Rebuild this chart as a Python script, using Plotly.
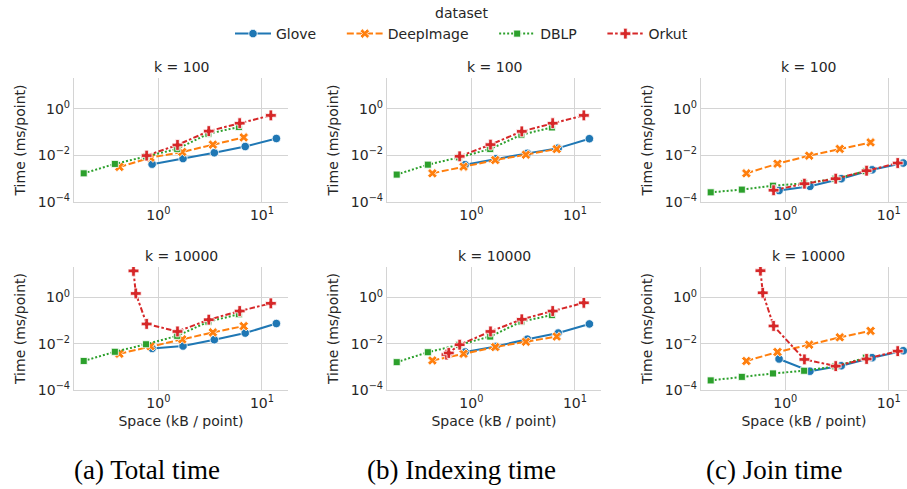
import plotly.graph_objects as go

# ---------------- data ----------------
datasets = ["Glove", "DeepImage", "DBLP", "Orkut"]
k_values = ["k = 100", "k = 10000"]
panels = ["Total time", "Indexing time", "Join time"]
captions = ["(a) Total time", "(b) Indexing time", "(c) Join time"]

glove_space = [0.87, 1.73, 3.47, 6.9, 13.8]
deep_space = [0.42, 0.84, 1.7, 3.36, 6.67]
dblp_space = [0.19, 0.38, 0.76, 1.52, 3.04, 6.0]
orkut_space_k100 = [0.77, 1.53, 3.07, 6.1, 12.2]
orkut_space_k10000 = [0.575, 0.605, 0.77, 1.53, 3.07, 6.1, 12.2]

# total time (ms/point)
total_k100_glove = [0.0042, 0.0073, 0.013, 0.024, 0.053]
total_k100_deep = [0.0032, 0.0080, 0.014, 0.029, 0.059]
total_k100_dblp = [0.0017, 0.0043, 0.009, 0.019, 0.085, 0.165]
total_k100_orkut = [0.0098, 0.028, 0.11, 0.24, 0.52]
total_k10000_glove = [0.0063, 0.008, 0.015, 0.029, 0.075]
total_k10000_deep = [0.0037, 0.0078, 0.0155, 0.031, 0.058]
total_k10000_dblp = [0.0018, 0.0045, 0.0095, 0.022, 0.09, 0.19]
total_k10000_orkut = [14.2, 1.5, 0.072, 0.034, 0.11, 0.26, 0.56]

# indexing time
index_k100_glove = [0.004, 0.0072, 0.0122, 0.0205, 0.052]
index_k100_deep = [0.0017, 0.0033, 0.0063, 0.0107, 0.0187]
index_k100_dblp = [0.0015, 0.004, 0.0082, 0.0187, 0.077, 0.158]
index_k100_orkut = [0.0091, 0.029, 0.107, 0.24, 0.52]
index_k10000_glove = [0.0044, 0.0077, 0.0158, 0.029, 0.072]
index_k10000_deep = [0.0019, 0.0037, 0.0072, 0.0122, 0.0205]
index_k10000_dblp = [0.0016, 0.0043, 0.009, 0.0205, 0.091, 0.174]
index_k10000_orkut = [0.0034, 0.004, 0.0091, 0.034, 0.114, 0.26, 0.59]

# join time
join_k100_glove = [0.00031, 0.00047, 0.001, 0.0024, 0.0047]
join_k100_deep = [0.0017, 0.0044, 0.0097, 0.019, 0.036]
join_k100_dblp = [0.00026, 0.00034, 0.0005, 0.00063, 0.001, 0.0021]
join_k100_orkut = [0.00032, 0.00061, 0.001, 0.0022, 0.0047]
join_k10000_glove = [0.0022, 0.00065, 0.00112, 0.0025, 0.005]
join_k10000_deep = [0.0018, 0.0044, 0.0091, 0.019, 0.036]
join_k10000_dblp = [0.00026, 0.00037, 0.00052, 0.00068, 0.00105, 0.0025]
join_k10000_orkut = [14.5, 1.6, 0.059, 0.0021, 0.00108, 0.0022, 0.0048]

x_tick_vals = [1, 10]
x_tick_text = ["10<sup>0</sup>", "10<sup>1</sup>"]
y_tick_vals = [1e-4, 1e-2, 1]
y_tick_text = ["10<sup>−4</sup>", "10<sup>−2</sup>", "10<sup>0</sup>"]

# ---------------- assembly ----------------
series = {
    (0, 0): [total_k100_glove, total_k100_deep, total_k100_dblp, total_k100_orkut],
    (1, 0): [total_k10000_glove, total_k10000_deep, total_k10000_dblp, total_k10000_orkut],
    (0, 1): [index_k100_glove, index_k100_deep, index_k100_dblp, index_k100_orkut],
    (1, 1): [index_k10000_glove, index_k10000_deep, index_k10000_dblp, index_k10000_orkut],
    (0, 2): [join_k100_glove, join_k100_deep, join_k100_dblp, join_k100_orkut],
    (1, 2): [join_k10000_glove, join_k10000_deep, join_k10000_dblp, join_k10000_orkut],
}
xs_by_row = {
    0: [glove_space, deep_space, dblp_space, orkut_space_k100],
    1: [glove_space, deep_space, dblp_space, orkut_space_k10000],
}

colors = ["#1f77b4", "#ff7f0e", "#2ca02c", "#d62728"]
symbols = ["circle", "x", "square", "cross"]
msizes = [8.5, 8.5, 7, 9]
dashes = ["solid", "7px,2.6px", "2px,2px", "5.5px,2.2px,2.6px,2.2px"]
PAD = "\u00a0" * 4 + "\u2009"

W, H = 907, 489
FONT = "DejaVu Sans"
FS = 14
TXT = "#262626"
GRID = "#d4d4d4"

col_px = [(74, 288), (387, 601), (701, 907)]
x_ranges = [[-0.815, 1.252], [-0.815, 1.252], [-0.815, 1.176]]
row_px = [(78, 202), (267, 390)]
y_range = [-4, 1.32]

fig = go.Figure()
layout = dict(
    width=W, height=H,
    margin=dict(l=0, r=0, t=0, b=0),
    paper_bgcolor="white", plot_bgcolor="white",
    font=dict(family=FONT, size=FS, color=TXT),
    showlegend=True,
    legend=dict(orientation="h", x=230 / W, xanchor="left", y=1 - 34 / H, yanchor="middle",
                font=dict(size=FS), bgcolor="rgba(0,0,0,0)", itemwidth=36,
                tracegroupgap=0),
)
annotations = []

for r in range(2):
    for c in range(3):
        idx = r * 3 + c + 1
        xa = "x" if idx == 1 else f"x{idx}"
        ya = "y" if idx == 1 else f"y{idx}"
        for d in range(4):
            fig.add_trace(go.Scatter(
                x=xs_by_row[r][d], y=series[(r, c)][d],
                mode="lines+markers",
                name=datasets[d] + (PAD if d < 3 else ""),
                legendgroup=datasets[d], showlegend=(idx == 1),
                line=dict(color=colors[d], width=2, dash=dashes[d]),
                marker=dict(symbol=symbols[d], size=msizes[d], color=colors[d],
                            line=dict(color="white", width=0.8)),
                xaxis=xa, yaxis=ya,
            ))
        x0, x1 = col_px[c]
        y0, y1 = row_px[r]
        xaxis = dict(
            type="log", range=x_ranges[c], domain=[x0 / W, x1 / W],
            anchor=ya, tickvals=x_tick_vals, ticktext=x_tick_text,
            showgrid=True, gridcolor=GRID, gridwidth=1,
            showline=True, linecolor=GRID, linewidth=1.2, zeroline=False,
            ticks="", tickfont=dict(size=FS, color=TXT), automargin=False,
        )
        if r == 1:
            xaxis["title"] = dict(text="Space (kB / point)", standoff=6,
                                  font=dict(size=FS, color=TXT))
        layout[f"xaxis{idx}"] = xaxis
        layout[f"yaxis{idx}"] = dict(
            type="log", range=y_range, domain=[1 - y1 / H, 1 - y0 / H],
            anchor=xa, tickvals=y_tick_vals, ticktext=y_tick_text,
            showgrid=True, gridcolor=GRID, gridwidth=1,
            showline=True, linecolor=GRID, linewidth=1.2, zeroline=False,
            ticks="", tickfont=dict(size=FS, color=TXT), automargin=False,
            title=dict(text="Time (ms/point)", standoff=8, font=dict(size=FS, color=TXT)),
        )
        annotations.append(dict(
            text=k_values[r], x=(x0 + 107) / W, y=1 - (y0 - 11) / H,
            xref="paper", yref="paper", xanchor="center", yanchor="middle",
            showarrow=False, font=dict(size=FS, color=TXT)))

annotations.append(dict(text="dataset", x=461 / W, y=1 - 13 / H, xref="paper", yref="paper",
                        xanchor="center", yanchor="middle", showarrow=False,
                        font=dict(size=FS, color=TXT)))
cap_x = [147, 461, 774]
for i, cap in enumerate(captions):
    annotations.append(dict(text=cap, x=cap_x[i] / W, y=1 - 470 / H, xref="paper", yref="paper",
                            xanchor="center", yanchor="middle", showarrow=False,
                            font=dict(family="Liberation Serif", size=27, color="black")))
layout["annotations"] = annotations
fig.update_layout(**layout)
fig.write_html("out.html", config={"displayModeBar": False},
               post_script="document.body.style.margin='0';document.body.style.overflow='hidden';")
